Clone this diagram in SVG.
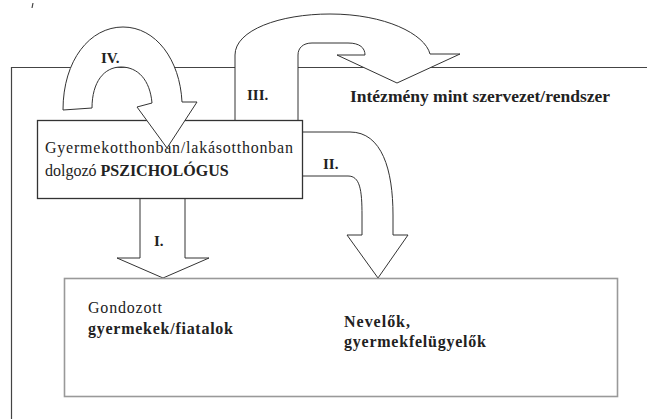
<svg xmlns="http://www.w3.org/2000/svg" width="647" height="419" viewBox="0 0 647 419">
<style>
.arr{fill:#fff;stroke:#333;stroke-width:1;stroke-linejoin:miter}
.frame{fill:none;stroke:#444;stroke-width:1.2}
</style>
<rect width="647" height="419" fill="#fff"/>
<path d="M33,3 L32,8" stroke="#444" stroke-width="1.2" fill="none"/>
<g id="frame">
<path class="frame" d="M11.5,419 L11.5,67.5 L647,67.5"/>
<text font-family="Liberation Serif" font-size="16" font-weight="bold" fill="#222" x="350" y="102" textLength="260" lengthAdjust="spacingAndGlyphs">Intézmény mint szervezet/rendszer</text>
</g>
<g id="connectors">
<g id="arrow-III">
<path class="arr" d="M235,120 L235,55 C235,30 280,14 330,14 C385,14 425,34 430,54 L460,54 L397,83 L337,55 L365,55 C365,48 360,43 348,43 L312,43 C303,43 298,48 298,55 L298,120"/>
<text font-family="Liberation Serif" font-size="15" font-weight="bold" fill="#222" x="247" y="100">III.</text>
</g>
<g id="arrow-II">
<path class="arr" d="M302,132 L350,132 C382,132 393,170 393,215 L393,235 L408,235 L378,278 L347,235 L362,235 L362,215 C362,190 360,176 348,176 L302,176"/>
<text font-family="Liberation Serif" font-size="15" font-weight="bold" fill="#222" x="323" y="169">II.</text>
</g>
<g id="arrow-I">
<path class="arr" d="M140,199 L140,258 L117,258 L163,278 L209,258 L185,258 L185,199"/>
<text font-family="Liberation Serif" font-size="15" font-weight="bold" fill="#222" x="154" y="246">I.</text>
</g>
</g>
<g id="psychologist">
<rect x="37.5" y="120.5" width="265" height="78" fill="#fff" stroke="#333" stroke-width="1.3"/>
<text font-family="Liberation Serif" font-size="16" fill="#222" x="45" y="153" textLength="248" lengthAdjust="spacing">Gyermekotthonban/lakásotthonban</text>
<text font-family="Liberation Serif" font-size="16" fill="#222" x="45" y="176">dolgozó <tspan font-weight="bold">PSZICHOLÓGUS</tspan></text>
</g>
<g id="arrow-IV">
<path class="arr" d="M63,110 C63,60 90,27 123,27 C156,27 180,60 182,102 L197,102 L167,148 L137,107 L152,103 C150,80 138,67 121,67 C104,67 92,82 92,108 Z"/>
<text font-family="Liberation Serif" font-size="15" font-weight="bold" fill="#222" x="101" y="63">IV.</text>
</g>
<g id="recipients">
<rect x="64.5" y="278.5" width="553" height="118" fill="none" stroke="#999" stroke-width="1.6"/>
<text font-family="Liberation Serif" font-size="16" fill="#222" x="88" y="313" textLength="74" lengthAdjust="spacing">Gondozott</text>
<text font-family="Liberation Serif" font-size="16" font-weight="bold" fill="#222" x="88" y="334" textLength="145" lengthAdjust="spacing">gyermekek/fiatalok</text>
<text font-family="Liberation Serif" font-size="16" font-weight="bold" fill="#222" x="344" y="327" textLength="66" lengthAdjust="spacing">Nevelők,</text>
<text font-family="Liberation Serif" font-size="16" font-weight="bold" fill="#222" x="344" y="347" textLength="142" lengthAdjust="spacing">gyermekfelügyelők</text>
</g>
</svg>
